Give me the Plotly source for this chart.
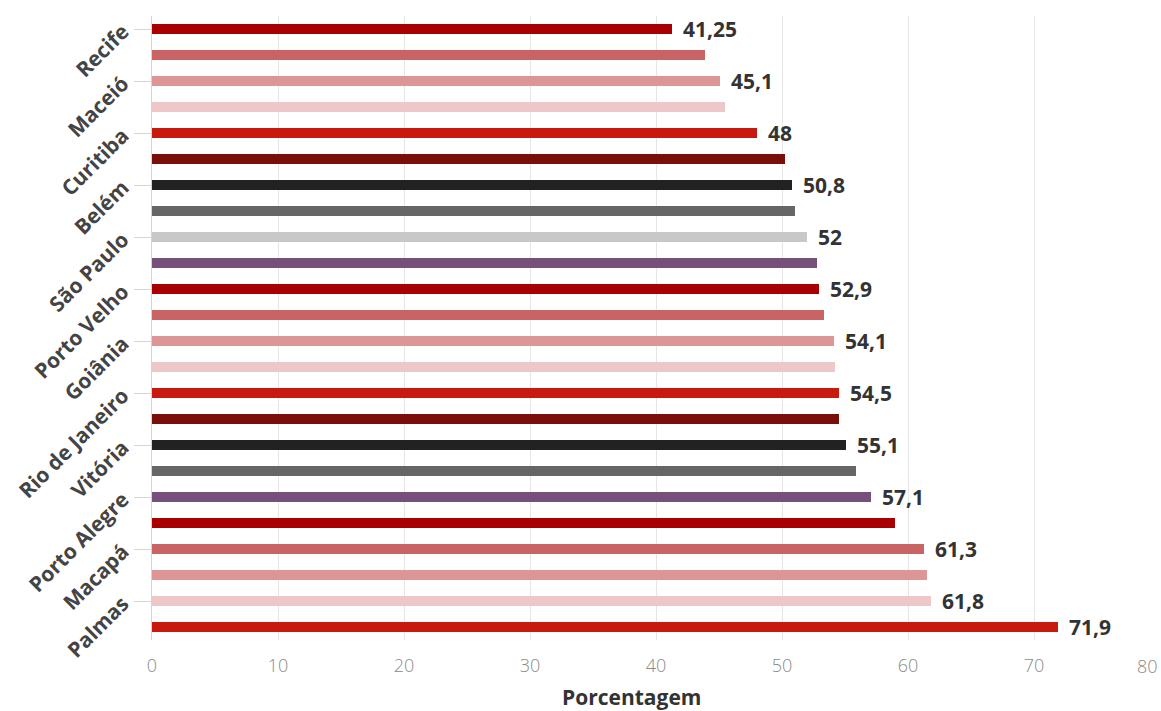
import plotly.graph_objects as go

# 24 bars, top to bottom; only every other bar carries a city tick label
values = [41.25, 43.9, 45.1, 45.5, 48.0, 50.2, 50.8, 51.0, 52.0, 52.8, 52.9, 53.3,
          54.1, 54.2, 54.5, 54.5, 55.1, 55.9, 57.1, 59.0, 61.3, 61.5, 61.8, 71.9]
value_labels = ["41,25", "", "45,1", "", "48", "", "50,8", "", "52", "", "52,9", "",
                "54,1", "", "54,5", "", "55,1", "", "57,1", "", "61,3", "", "61,8", "71,9"]
colors = ["#a80000", "#c86464", "#dc9696", "#eec8c8", "#c8190f", "#7a0f0a",
          "#222222", "#666666", "#c8c8c8", "#76507a", "#a80000", "#c86464",
          "#dc9696", "#eec8c8", "#c8190f", "#7a0f0a", "#222222", "#666666",
          "#76507a", "#a80000", "#c86464", "#dc9696", "#eec8c8", "#c8190f"]
cities = ["Recife", "Maceió", "Curitiba", "Belém", "São Paulo", "Porto Velho",
          "Goiânia", "Rio de Janeiro", "Vitória", "Porto Alegre", "Macapá", "Palmas"]
city_positions = [0, 2, 4, 6, 8, 10, 12, 14, 16, 18, 20, 22]
x_ticks = [0, 10, 20, 30, 40, 50, 60, 70, 80]

positions = list(range(len(values)))
tick_font = dict(family="Open Sans", size=18, color="#8a8a8a", weight=300)

fig = go.Figure()
fig.add_trace(go.Bar(
    x=values, y=positions, orientation="h",
    marker=dict(color=colors, line=dict(width=0)),
    width=0.42, hoverinfo="x",
))

for p, v, lab in zip(positions, values, value_labels):
    if lab:
        fig.add_annotation(
            x=v, y=p, xref="x", yref="y", text=lab, showarrow=False,
            xanchor="left", yanchor="middle", xshift=9,
            font=dict(family="Open Sans", size=21, color="#333333", weight="bold"),
        )

# last x tick label is pulled inside the chart edge, as in the original
fig.add_annotation(
    x=x_ticks[-1], y=0, xref="x", yref="paper", yshift=-26, text=str(x_ticks[-1]),
    showarrow=False, xanchor="right", yanchor="middle", font=tick_font,
)

fig.add_annotation(
    x=0.476, y=0, xref="paper", yref="paper", yshift=-57, text="Porcentagem",
    showarrow=False, xanchor="center", yanchor="middle",
    font=dict(family="Open Sans", size=21, color="#333333", weight="bold"),
)

fig.update_layout(
    width=1161, height=711,
    margin=dict(l=152, r=1, t=16, b=71),
    paper_bgcolor="white", plot_bgcolor="white",
    showlegend=False,
    bargap=0,
    xaxis=dict(
        range=[0, 80], tickvals=x_ticks[:-1], ticktext=[str(t) for t in x_ticks[:-1]],
        showgrid=True, gridcolor="#e6e6e6", gridwidth=1,
        zeroline=False, showline=False, ticks="",
        tickfont=tick_font,
        ticklabelstandoff=13,
    ),
    yaxis=dict(
        range=[23.5, -0.5], tickvals=city_positions, ticktext=cities,
        tickangle=-45, showgrid=False, zeroline=False,
        showline=True, linecolor="#ccd6eb", linewidth=1,
        ticks="outside", ticklen=17, tickcolor="#ccd6eb", tickwidth=1,
        tickfont=dict(family="Open Sans", size=21, color="#444444", weight="bold"),
        ticklabelstandoff=7,
    ),
)

fig.write_html("out.html")
